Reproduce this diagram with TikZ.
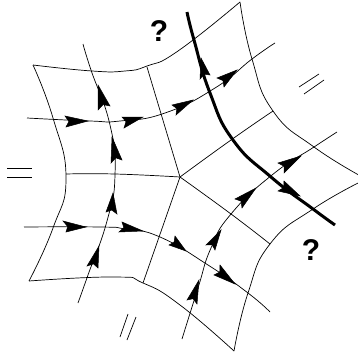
\documentclass[tikz,border=0pt]{standalone}
\usepackage{fontspec}
\setmainfont{Liberation Sans}
\usetikzlibrary{calc}
\tikzset{
  thinline/.style={line width=0.7pt,black},
  thickline/.style={line width=3pt,black},
  dartfill/.style={fill=black,draw=black,line width=0.5pt,line join=miter},
  mark label/.style={font=\bfseries\fontsize{30}{30}\selectfont,inner sep=0pt}
}
\newcommand{\dart}[3]{\filldraw[dartfill] (#1) -- (#2) -- ($(#2)!.5!(#3)!.15!(#1)$) -- (#3) -- cycle;}
\newcommand{\curve}[2][thinline]{\draw[#1] plot[smooth,tension=0.85] coordinates {#2};}
\begin{document}
\begin{tikzpicture}[x=1pt,y=-1pt]
\clip (0,0) rectangle (358,356);
\useasboundingbox (0,0) rectangle (358,356);
\coordinate (C) at (180,177);
% outer boundary
\curve{(33,65) (92,71) (125,71) (147,66) (178,51) (240,2)}
\curve{(240,2) (252,59) (273,111) (314,147) (366,179)}
\curve{(366,179) (313,209) (270,244) (248,293) (234,351)}
\curve{(234,351) (180,305) (143,283) (115,277) (29,281)}
\curve{(29,281) (53,228) (66,178) (53,118) (33,65)}
% spokes
\curve{(66,174) (115,174) (C)}
\curve{(147,67) (C)}
\curve{(C) (231,140) (273,111)}
\curve{(C) (231,214) (270,244)}
\curve{(C) (143,283)}
% flow lines
\curve{(27,118) (90,121) (120,121) (165,113) (215,88) (252,59) (275,43)}
\curve{(83,44) (91,70) (110,125) (115,175) (107,221) (88,275) (78,303)}
\curve{(24,227) (100,227) (125,229) (160,237) (208,265) (248,293) (270,312)}
\curve{(182,339) (198,288) (211,248) (231,214) (272,175) (314,147) (337,132)}
% thick curve
\curve[thickline]{(187,12) (194,40) (210,93) (233,140) (271,177) (313,209) (335,225)}
% arrowheads
\dart{88,121}{65,116}{66,127}
\dart{143,117}{122,117}{124,128}
\dart{193,100}{172,105}{176,115}
\dart{237,70}{217,78}{224,87}
\dart{98,85}{98,110}{110,106}
\dart{112,137}{111,163}{122,160}
\dart{113,193}{106,212}{117,214}
\dart{99,246}{87,266}{98,268}
\dart{86,227}{63,221}{66,232}
\dart{143,231}{122,222}{119,232}
\dart{186,251}{175,236}{169,245}
\dart{235,284}{220,265}{214,275}
\dart{199,280}{187,300}{197,304}
\dart{221,230}{206,245}{215,250}
\dart{256,188}{235,199}{242,208}
\dart{301,156}{278,163}{284,173}
\dart{201,58}{200,79}{210,75}
\dart{300,196}{284,181}{278,191}
% parallel marks
\draw[thinline] (7,168) -- (32,168);
\draw[thinline] (7,177) -- (32,177);
\draw[thinline] (299,87) -- (319,74);
\draw[thinline] (304,94) -- (324,80);
\draw[thinline] (120,337) -- (128,314);
\draw[thinline] (127,340) -- (136,317);
% labels
\node[mark label] (q1) at (159,31) {?};
\node[mark label] (q2) at (311,250) {?};
\end{tikzpicture}
\end{document}
